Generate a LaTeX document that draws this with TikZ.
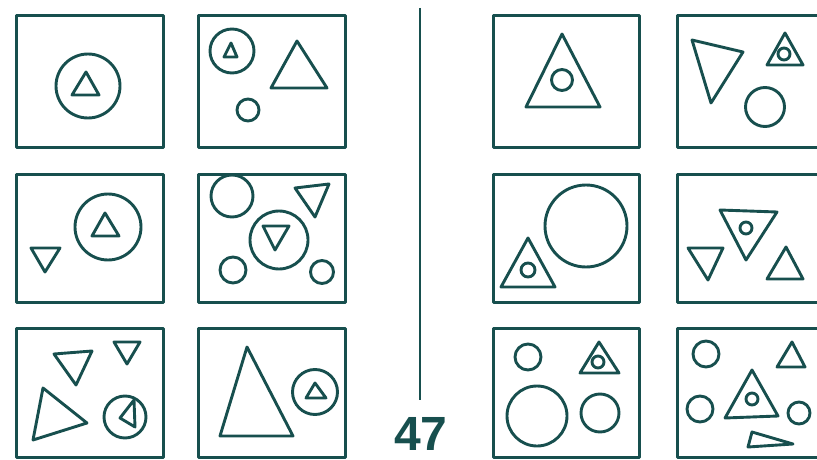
\documentclass[tikz,border=0pt]{standalone}
\usepackage{fontspec}
\setsansfont{Liberation Sans}
\usepackage{tikz}
\definecolor{inkTeal}{HTML}{174F4E}

\begin{document}
\begin{tikzpicture}[
      x=1pt, y=-1pt,
      panel/.style={draw=inkTeal, line width=3pt, line join=round},
      fig/.style={draw=inkTeal, line width=2.9pt, line join=round},
      number/.style={text=inkTeal, font=\sffamily\bfseries\fontsize{48pt}{48pt}\selectfont, inner sep=0pt}
    ]
      \useasboundingbox (0,0) rectangle (817,460);
      \clip (0,0) rectangle (817,460);

      % frames
      \foreach \xa/\xb in {16/163, 198/345, 493/639, 677/830} {
        \draw[panel] (\xa,16) rectangle (\xb,147);
        \draw[panel] (\xa,174) rectangle (\xb,302);
        \draw[panel] (\xa,328) rectangle (\xb,457);
      }

      % divider and number
      \draw[fig] (420,8) -- (420,400);
      \node[number] (num) at (421,434) {47};

      % left, row 1
      \draw[fig] (88,86) circle[radius=32];
      \draw[fig] (86,72) -- (72,95) -- (99,95) -- cycle;

      \draw[fig] (232,51) circle[radius=22];
      \draw[fig] (231,43) -- (224,57) -- (237,57) -- cycle;
      \draw[fig] (297,41) -- (271,88) -- (327,88) -- cycle;
      \draw[fig] (248,110) circle[radius=11];

      % left, row 2
      \draw[fig] (108,227) circle[radius=33];
      \draw[fig] (105,213) -- (92,236) -- (119,236) -- cycle;
      \draw[fig] (31,248) -- (60,248) -- (45,272) -- cycle;

      \draw[fig] (232,196) circle[radius=21];
      \draw[fig] (279,240) circle[radius=29];
      \draw[fig] (263,226) -- (289,226) -- (275,250) -- cycle;
      \draw[fig] (295,188) -- (329,184) -- (315,217) -- cycle;
      \draw[fig] (233,270) circle[radius=13];
      \draw[fig] (322,272) circle[radius=11.5];

      % left, row 3
      \draw[fig] (54,354) -- (92,351) -- (76,385) -- cycle;
      \draw[fig] (114,342) -- (140,342) -- (127,364) -- cycle;
      \draw[fig] (43,388) -- (87,423) -- (33,440) -- cycle;
      \draw[fig] (125,417) circle[radius=21];
      \draw[fig] (134,400) -- (135,427) -- (120,418) -- cycle;

      \draw[fig] (247,347) -- (220,436) -- (293,436) -- cycle;
      \draw[fig] (315,392) circle[radius=22.5];
      \draw[fig] (315,383) -- (306,398) -- (326,398) -- cycle;

      % right, row 1
      \draw[fig] (562,34) -- (526,107) -- (600,107) -- cycle;
      \draw[fig] (562,80) circle[radius=10.5];

      \draw[fig] (692,40) -- (743,52) -- (711,103) -- cycle;
      \draw[fig] (785,33) -- (767,65) -- (803,65) -- cycle;
      \draw[fig] (784,54) circle[radius=6];
      \draw[fig] (765,107) circle[radius=19.5];

      % right, row 2
      \draw[fig] (586,226) circle[radius=41];
      \draw[fig] (528,238) -- (501,287) -- (555,287) -- cycle;
      \draw[fig] (528,270) circle[radius=7];

      \draw[fig] (720,210) -- (777,212) -- (746,260) -- cycle;
      \draw[fig] (746,228) circle[radius=6];
      \draw[fig] (688,248) -- (723,248) -- (708,280) -- cycle;
      \draw[fig] (786,247) -- (767,279) -- (803,279) -- cycle;

      % right, row 3
      \draw[fig] (528,357) circle[radius=13];
      \draw[fig] (599,342) -- (580,373) -- (619,373) -- cycle;
      \draw[fig] (598,362) circle[radius=6];
      \draw[fig] (537,416) circle[radius=30];
      \draw[fig] (600,413) circle[radius=19];

      \draw[fig] (706,354) circle[radius=13];
      \draw[fig] (792,342) -- (777,367) -- (805,367) -- cycle;
      \draw[fig] (752,370) -- (725,418) -- (778,416) -- cycle;
      \draw[fig] (752,399) circle[radius=6];
      \draw[fig] (700,409) circle[radius=13];
      \draw[fig] (799,413) circle[radius=11];
      \draw[fig] (752,432) -- (793,444) -- (748,447) -- cycle;
    \end{tikzpicture}
\end{document}
